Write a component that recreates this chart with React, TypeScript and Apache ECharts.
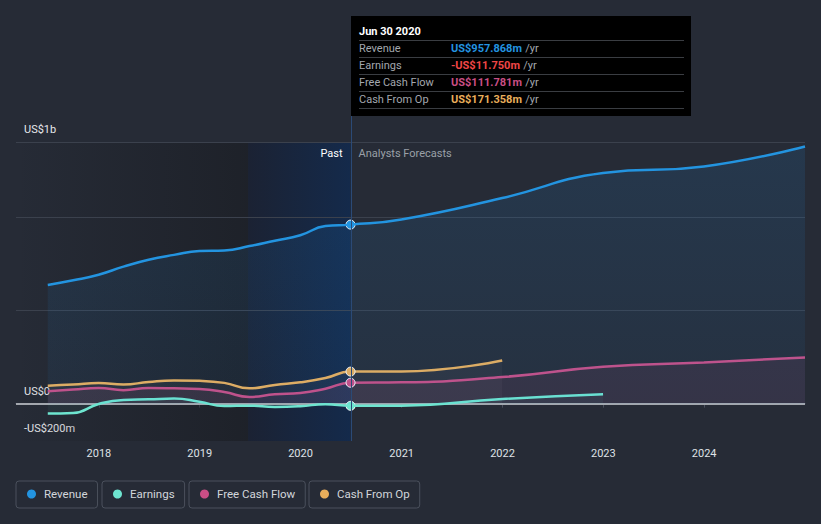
import React, { useEffect, useRef } from "react";
import * as echarts from "echarts";

const PAST_DATES = ["2017-06-30", "2017-09-30", "2017-12-31", "2018-03-31", "2018-06-30", "2018-09-30", "2018-12-31", "2019-03-31", "2019-06-30", "2019-09-30", "2019-12-31", "2020-03-31", "2020-06-30"];
const REVENUE_PAST = [635, 660, 690, 733, 770, 796, 817, 820, 843, 872, 901, 950, 957.868];
const EARNINGS_PAST = [-53, -50, -2, 20, 23, 27, 10, -13, -11, -18, -14, -3, -11.75];
const FCF_PAST = [66, 75, 84, 72, 84, 82, 78, 62, 36, 50, 57, 80, 111.781];
const CFO_PAST = [96, 102, 110, 102, 116, 124, 122, 111, 82, 100, 114, 137, 171.358];

const FORECAST_DATES = ["2020-12-31", "2021-12-31", "2022-12-31", "2023-12-31", "2024-12-31"];
const REVENUE_FC = [985, 1100, 1234, 1269, 1376];
const EARNINGS_FC = [-11, 25, 50];
const FCF_FC = [114, 142, 197, 220, 247];
const CFO_FC = [172, 231];

const SERIES_NAMES = ["Revenue", "Earnings", "Free Cash Flow", "Cash From Op"];
const SERIES_COLORS = ["#2394e0", "#6ee5d0", "#c94e85", "#e9ae5b"];
const TOOLTIP_TITLE = "Jun 30 2020";
const TOOLTIP_VALUES = ["US$957.868m", "-US$11.750m", "US$111.781m", "US$171.358m"];
const TOOLTIP_VALUE_COLORS = ["#2394e0", "#f04646", "#c94e85", "#e9ae5b"];
const Y_TICKS: Record<number, string> = { 1400: "US$1b", 0: "US$0", [-200]: "-US$200m" };
const GRID_LINES = [1400, 1000, 500];

const X_MIN = "2017-03-07";
const X_MAX = "2024-12-31";
const BAND_START = "2019-06-25";
const PAST_END = "2020-06-30";

const FONT = "Roboto, 'Noto Sans', sans-serif";

function build(past: number[], fc: number[]) {
  const out: [string, number][] = past.map((v, i) => [PAST_DATES[i], v]);
  fc.forEach((v, i) => out.push([FORECAST_DATES[i], v]));
  return out;
}

export default function App() {
  const ref = useRef<HTMLDivElement>(null);
  useEffect(() => {
    if (!ref.current) return;
    const chart = echarts.init(ref.current, null, { renderer: "svg" });
    const datasets = [
      build(REVENUE_PAST, REVENUE_FC),
      build(EARNINGS_PAST, EARNINGS_FC),
      build(FCF_PAST, FCF_FC),
      build(CFO_PAST, CFO_FC),
    ];
    const lastPast = [REVENUE_PAST, EARNINGS_PAST, FCF_PAST, CFO_PAST].map((a) => a[a.length - 1]);
    const areaColors = [
      new echarts.graphic.LinearGradient(0, 0, 0, 1, [
        { offset: 0, color: "rgba(33,150,243,0.17)" },
        { offset: 1, color: "rgba(33,150,243,0.08)" },
      ]),
      "rgba(110,227,207,0.07)",
      "rgba(201,78,133,0.14)",
      "rgba(210,200,190,0.07)",
    ];
    const legendLefts = [16, 102, 189, 309];

    const series: any[] = [
      {
        type: "line",
        data: [],
        z: 1,
        silent: true,
        markArea: {
          silent: true,
          data: [
            [
              {
                xAxis: X_MIN,
                itemStyle: {
                  color: new echarts.graphic.LinearGradient(0, 0, 1, 0, [
                    { offset: 0, color: "rgba(20,22,26,0)" },
                    { offset: 1, color: "rgba(20,22,26,0.45)" },
                  ]),
                },
              },
              { xAxis: BAND_START },
            ],
            [
              {
                xAxis: BAND_START,
                itemStyle: {
                  color: new echarts.graphic.LinearGradient(0, 0, 1, 0, [
                    { offset: 0, color: "#1b2233" },
                    { offset: 1, color: "#142a4b" },
                  ]),
                },
              },
              { xAxis: PAST_END },
            ],
          ],
        },
      },
      {
        type: "line",
        data: [],
        z: 2,
        silent: true,
        markLine: {
          silent: true,
          symbol: "none",
          label: { show: false },
          lineStyle: { color: "#3b414d", width: 1, type: "solid" },
          data: [
            ...GRID_LINES.map((v) => ({ yAxis: v })),
            { yAxis: 0, lineStyle: { color: "#a3a7ae", width: 2, type: "solid" } },
          ],
        },
      },
      ...SERIES_NAMES.map((name, i) => ({
        name,
        type: "line",
        z: 3 + (3 - i),
        data: datasets[i],
        smooth: 0.5,
        symbol: "none",
        showSymbol: false,
        lineStyle: { color: SERIES_COLORS[i], width: 2.5 },
        itemStyle: { color: SERIES_COLORS[i] },
        areaStyle: { color: areaColors[i] },
        markPoint: {
          silent: true,
          symbol: "circle",
          symbolSize: 9,
          label: { show: false },
          itemStyle: { color: SERIES_COLORS[i], borderColor: "#ffffff", borderWidth: 1 },
          data: [{ coord: [PAST_END, lastPast[i]] }],
        },
      })),
    ];

    chart.setOption({
      animation: false,
      backgroundColor: "#262b36",
      textStyle: { fontFamily: FONT },
      grid: { left: 16, right: 16, top: 142, bottom: 83, containLabel: false },
      xAxis: {
        type: "time",
        min: X_MIN,
        max: X_MAX,
        minInterval: 365 * 24 * 3600 * 1000,
        splitLine: { show: false },
        axisLine: { lineStyle: { color: "#4b515e", width: 1 } },
        axisTick: { show: true, length: 4, lineStyle: { color: "#4b515e" } },
        axisLabel: { color: "#dfe2e6", fontSize: 11, margin: 7, formatter: "{yyyy}", fontFamily: FONT },
      },
      yAxis: {
        type: "value",
        min: -200,
        max: 1400,
        interval: 200,
        splitLine: { show: false },
        axisLine: { show: false },
        axisTick: { show: false },
        axisLabel: {
          inside: true,
          margin: 8,
          color: "#e6e8ec",
          fontSize: 11,
          fontFamily: FONT,
          verticalAlign: "bottom",
          padding: [0, 0, 7, 0],
          formatter: (v: number) => Y_TICKS[v] || "",
        },
      },
      legend: SERIES_NAMES.map((name, i) => ({
        data: [name],
        left: legendLefts[i],
        top: 481,
        orient: "horizontal",
        itemWidth: 9,
        itemHeight: 9,
        icon: "circle",
        borderColor: "#4a505c",
        borderWidth: 1,
        borderRadius: 3,
        padding: [7, 10, 8, 11],
        selectedMode: false,
        textStyle: { color: "#d3d6db", fontSize: 11.5, fontFamily: FONT, padding: [0, 0, 0, 3] },
      })),
      series,
    });

    const [px, topY] = chart.convertToPixel({ gridIndex: 0 }, [PAST_END, 1400]) as number[];
    const bottomY = (chart.convertToPixel({ gridIndex: 0 }, [PAST_END, -200]) as number[])[1];
    const boxX = Math.round(px);
    const boxTop = 16;
    const boxH = 100;
    const rowYs = [48, 65, 82, 99];
    const sepYs = [40.5, 57.5, 74.5, 91.5, 108.5];
    const labelCol = "#a3a7ae";

    const graphic: any[] = [
      {
        type: "line",
        silent: true,
        z: 50,
        shape: { x1: boxX + 0.5, y1: boxTop + boxH, x2: boxX + 0.5, y2: bottomY },
        style: { stroke: "#2b4a76", lineWidth: 1 },
      },
      {
        type: "text",
        z: 50,
        style: { text: "Past", x: px - 8, y: topY + 11, align: "right", verticalAlign: "middle", fill: "#ffffff", font: `11px ${FONT}` },
      },
      {
        type: "text",
        z: 50,
        style: { text: "Analysts Forecasts", x: px + 8, y: topY + 11, align: "left", verticalAlign: "middle", fill: "#9aa0a8", font: `11px ${FONT}` },
      },
      {
        type: "rect",
        z: 60,
        shape: { x: boxX, y: boxTop, width: 340, height: boxH },
        style: { fill: "#000000" },
      },
      {
        type: "text",
        z: 61,
        style: { text: TOOLTIP_TITLE, x: boxX + 8, y: 31, verticalAlign: "middle", fill: "#ffffff", font: `bold 11px ${FONT}` },
      },
      ...sepYs.map((y) => ({
        type: "line",
        z: 61,
        shape: { x1: boxX + 8, y1: y, x2: boxX + 333, y2: y },
        style: { stroke: "#3a3d42", lineWidth: 1 },
      })),
      ...SERIES_NAMES.map((name, i) => ({
        type: "text",
        z: 61,
        style: { text: name, x: boxX + 8, y: rowYs[i], verticalAlign: "middle", fill: labelCol, font: `11px ${FONT}` },
      })),
      ...TOOLTIP_VALUES.map((val, i) => ({
        type: "text",
        z: 61,
        style: {
          text: `{v|${val}} {u|/yr}`,
          x: boxX + 100,
          y: rowYs[i],
          verticalAlign: "middle",
          rich: {
            v: { fill: TOOLTIP_VALUE_COLORS[i], font: `bold 11px ${FONT}` },
            u: { fill: labelCol, font: `11px ${FONT}` },
          },
        },
      })),
    ];
    chart.setOption({ graphic });

    return () => chart.dispose();
  }, []);
  return <div ref={ref} style={{ width: 821, height: 524, position: "absolute", left: 0, top: 0 }} />;
}
